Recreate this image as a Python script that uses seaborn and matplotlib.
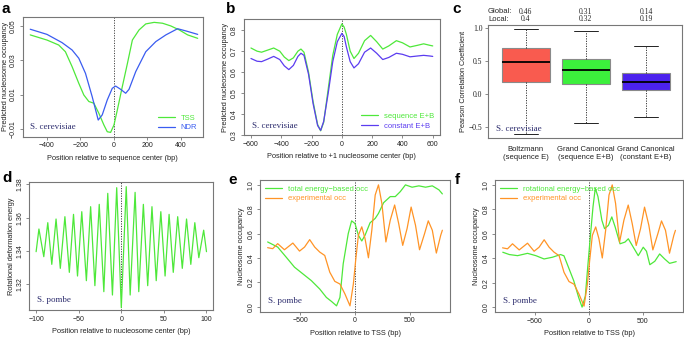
import pandas as pd
import seaborn as sns
import matplotlib.pyplot as plt
import matplotlib.transforms as mtransforms

# ---- panel a: predicted occupancy around TSS / NDR (S. cerevisiae)
a_tss_x = [-500, -400, -330, -290, -250, -210, -180, -150, -120, -90, -60, -40, -20, 0,
           20, 50, 80, 110, 150, 190, 240, 290, 340, 390, 440, 500]
a_tss_y = [0.0448, 0.0418, 0.0389, 0.0350, 0.0263, 0.0166, 0.0098, 0.0060, 0.0050, -0.0009,
           -0.0077, -0.0116, -0.0120, -0.0077, 0.0010, 0.0147, 0.0280, 0.0418, 0.0477, 0.0512,
           0.0521, 0.0516, 0.0500, 0.0477, 0.0448, 0.0428]
a_ndr_x = [-500, -400, -310, -250, -210, -170, -130, -94, -70, -40, -10, 10, 40, 70, 90,
           130, 190, 250, 310, 380, 430, 500]
a_ndr_y = [0.0481, 0.0451, 0.0403, 0.0360, 0.0312, 0.0224, 0.0088, -0.0048, -0.0018, 0.0069,
           0.0137, 0.0150, 0.0131, 0.0108, 0.0131, 0.0234, 0.0350, 0.0409, 0.0448, 0.0484,
           0.0471, 0.0451]

# ---- panel b: around +1 nucleosome
b_x = [-600, -560, -530, -490, -450, -410, -380, -350, -320, -290, -270, -250, -220, -190,
       -160, -140, -120, -90, -60, -30, 0, 15, 30, 55, 80, 110, 150, 190, 230, 270, 310,
       360, 400, 450, 500, 540, 580, 600]
b_seq = [0.715, 0.700, 0.695, 0.705, 0.715, 0.700, 0.672, 0.655, 0.668, 0.700, 0.710, 0.695,
         0.600, 0.460, 0.350, 0.320, 0.360, 0.520, 0.680, 0.780, 0.830, 0.815, 0.780, 0.700,
         0.665, 0.690, 0.750, 0.775, 0.745, 0.710, 0.725, 0.750, 0.740, 0.720, 0.728, 0.735,
         0.728, 0.725]
b_const = [0.665, 0.652, 0.650, 0.662, 0.675, 0.660, 0.630, 0.612, 0.632, 0.675, 0.690, 0.680,
           0.590, 0.450, 0.345, 0.322, 0.365, 0.500, 0.650, 0.745, 0.785, 0.770, 0.720, 0.650,
           0.620, 0.640, 0.695, 0.715, 0.690, 0.660, 0.670, 0.690, 0.685, 0.673, 0.677, 0.680,
           0.677, 0.675]

# ---- panel c: correlation boxes (min, q1, median, q3, max)
c_groups = ["Boltzmann\n(sequence E)", "Grand Canonical\n(sequence E+B)",
            "Grand Canonical\n(constant E+B)"]
c_boltz = [-0.60, 0.182, 0.485, 0.697, 0.985]
c_gc_seq = [-0.44, 0.152, 0.364, 0.535, 0.950]
c_gc_const = [-0.343, 0.066, 0.192, 0.328, 0.732]
c_global = ["0.46", "0.31", "0.14"]
c_local = ["0.4", "0.32", "0.19"]

# ---- panel d: rotational deformation energy (S. pombe), peaks and troughs
d_x = [-100, -96.7, -91, -86.3, -81.6, -76.6, -71.6, -66.2, -61, -56.1, -51.4, -46.4, -41,
       -36, -31, -25.9, -20.5, -15.9, -10.4, -5.4, 0, 5.8, 10.4, 16.2, 20.5, 25.9, 31, 36,
       41, 46.4, 51.4, 56.1, 61, 66.2, 71.6, 76.6, 81.6, 86.3, 91, 96.7, 100]
d_y = [1.3396, 1.3532, 1.3366, 1.3570, 1.3320, 1.3592, 1.3296, 1.3606, 1.3272, 1.3620,
       1.3250, 1.3636, 1.3222, 1.3666, 1.3192, 1.3680, 1.3156, 1.3746, 1.3136, 1.3780,
       1.3060, 1.3786, 1.3136, 1.3752, 1.3156, 1.3680, 1.3192, 1.3666, 1.3222, 1.3636,
       1.3250, 1.3620, 1.3272, 1.3606, 1.3296, 1.3592, 1.3320, 1.3570, 1.3360, 1.3525,
       1.3396]

# ---- panel e/f: occupancy around TSS (S. pombe)
exp_x = [-800, -754, -708, -646, -569, -508, -462, -415, -369, -323, -277, -231, -185, -138,
         -92, -46, -15, 6, 31, 62, 92, 123, 154, 185, 215, 246, 283, 323, 363, 400, 437,
         477, 514, 554, 591, 637, 671, 708, 745, 785, 800]
exp_y = [0.485, 0.477, 0.518, 0.468, 0.523, 0.457, 0.490, 0.551, 0.490, 0.449, 0.421, 0.284,
         0.209, 0.187, 0.105, 0.008, 0.187, 0.380, 0.587, 0.656, 0.559, 0.402, 0.628, 0.917,
         1.000, 0.848, 0.532, 0.711, 0.835, 0.683, 0.504, 0.642, 0.818, 0.669, 0.468, 0.600,
         0.705, 0.628, 0.441, 0.587, 0.628]
e_tot_x = [-800, -708, -631, -554, -477, -400, -323, -262, -215, -169, -138, -108, -62, -31,
           0, 31, 62, 92, 138, 185, 215, 262, 323, 369, 415, 462, 523, 585, 646, 708, 769, 800]
e_tot_y = [0.532, 0.490, 0.408, 0.325, 0.270, 0.215, 0.146, 0.077, 0.044, 0.008, 0.077,
           0.353, 0.600, 0.705, 0.683, 0.587, 0.540, 0.587, 0.689, 0.725, 0.766, 0.854,
           0.904, 0.904, 0.945, 1.000, 0.981, 0.992, 0.981, 0.992, 0.959, 0.926]
f_rot_x = [-798, -737, -661, -569, -492, -416, -339, -263, -232, -202, -141, -95, -64, -34,
           -12, 12, 37, 58, 83, 119, 144, 180, 211, 242, 287, 333, 364, 410, 456, 502, 532,
           563, 609, 654, 700, 746, 807]
f_rot_y = [0.449, 0.430, 0.421, 0.440, 0.421, 0.394, 0.408, 0.430, 0.420, 0.353, 0.215,
           0.077, 0.000, 0.090, 0.325, 0.573, 0.820, 0.972, 0.904, 0.711, 0.642, 0.669,
           0.738, 0.656, 0.518, 0.532, 0.559, 0.490, 0.421, 0.490, 0.457, 0.347, 0.375,
           0.435, 0.394, 0.358, 0.372]

GREEN = "#4ee83a"
BLUE = "#3a5cf0"
PURPLE = "#5b3cf0"
ORANGE = "#ff9426"
NAVY = "#2d2d6e"
FRAME = "#777777"

sns.set_theme(style="white")
plt.rcParams["font.family"] = ["Liberation Sans", "DejaVu Sans"]
plt.rcParams["axes.edgecolor"] = FRAME
plt.rcParams["axes.linewidth"] = 0.8
plt.rcParams["xtick.color"] = FRAME
plt.rcParams["ytick.color"] = FRAME
plt.rcParams["xtick.labelcolor"] = "#222222"
plt.rcParams["ytick.labelcolor"] = "#222222"

W, H = 684, 339
fig = plt.figure(figsize=(6.84, 3.39), dpi=100)


def make_ax(left, top, right, bottom):
    return fig.add_axes([left / W, 1 - bottom / H, (right - left) / W, (bottom - top) / H])


def style(ax, xlabel, ylabel, rot_y=True):
    ax.set_xlabel(xlabel, fontsize=5.3, color="#222222", labelpad=4)
    ax.set_ylabel(ylabel, fontsize=5.3, color="#222222", labelpad=1.5)
    ax.tick_params(axis="both", direction="out", length=2.5, width=0.6, labelsize=5, pad=1.5,
                   bottom=True, left=True)
    if rot_y:
        for lbl in ax.get_yticklabels():
            lbl.set_rotation(90)
            lbl.set_va("center")


def species(ax, name):
    ax.text(0.04, 0.08, name, transform=ax.transAxes, fontsize=6.5, color=NAVY,
            family=["Liberation Serif", "DejaVu Serif"], va="center", ha="left")


def vline(ax):
    ax.axvline(0, color="#444444", ls=(0, (1.2, 1.4)), lw=0.7, zorder=1)


def legend(ax, loc):
    leg = ax.legend(loc=loc, frameon=False, fontsize=5.5, handlelength=2.2,
                    handletextpad=0.8, labelspacing=0.3, borderaxespad=0.3)
    for txt, ln in zip(leg.get_texts(), leg.get_lines()):
        txt.set_color(ln.get_color())


# ---- a
ax = make_ax(22.7, 16.7, 202.7, 136.7)
sns.lineplot(x=a_tss_x, y=a_tss_y, ax=ax, color=GREEN, lw=0.9, label="TSS")
sns.lineplot(x=a_ndr_x, y=a_ndr_y, ax=ax, color=BLUE, lw=0.9, label="NDR")
vline(ax)
ax.set_xlim(-545, 530)
ax.set_ylim(-0.0145, 0.0554)
ax.set_xticks([-400, -200, 0, 200, 400])
ax.set_xticklabels(["\u2212400", "\u2212200", "0", "200", "400"])
ax.set_yticks([-0.01, 0.01, 0.03, 0.05])
ax.set_yticklabels(["\u22120.01", "0.01", "0.03", "0.05"])
style(ax, "Position relative to sequence center (bp)", "Predicted nucleosome occupancy")
ax.yaxis.labelpad = 0.5
legend(ax, "lower right")
species(ax, "S. cerevisiae")

# ---- b
ax = make_ax(243.7, 19.3, 440, 135)
sns.lineplot(x=b_x, y=b_seq, ax=ax, color=GREEN, lw=0.9, label="sequence E+B")
sns.lineplot(x=b_x, y=b_const, ax=ax, color=PURPLE, lw=0.9, label="constant E+B")
vline(ax)
ax.set_xlim(-648, 648)
ax.set_ylim(0.3, 0.852)
ax.set_xticks([-600, -400, -200, 0, 200, 400, 600])
ax.set_xticklabels(["\u2212600", "\u2212400", "\u2212200", "0", "200", "400", "600"])
ax.set_yticks([0.3, 0.4, 0.5, 0.6, 0.7, 0.8])
style(ax, "Position relative to +1 nucleosome center (bp)", "Predicted nucleosome occupancy")
legend(ax, "lower right")
species(ax, "S. cerevisiae")

# ---- c
ax = make_ax(488, 25, 682, 138)
df_c = pd.DataFrame({
    "group": [c_groups[0]] * 5 + [c_groups[1]] * 5 + [c_groups[2]] * 5,
    "r": c_boltz + c_gc_seq + c_gc_const,
})
sns.boxplot(data=df_c, x="group", y="r", hue="group", order=c_groups,
            palette=["#f95b4f", "#3cf03c", "#4b22ee"], saturation=1, whis=(0, 100),
            width=0.8, linewidth=0.8, linecolor="#222222", ax=ax, legend=False)
# R-like box styling: grey box border, black median, dotted whiskers
for patch in ax.patches:
    patch.set_edgecolor("#8a8a8a")
for ln in ax.lines:
    xd = ln.get_xdata()
    yd = ln.get_ydata()
    if len(xd) == 2 and xd[0] == xd[1]:
        ln.set_linestyle((0, (1.5, 1.5)))
        ln.set_linewidth(0.6)
    elif len(yd) == 2 and abs(xd[1] - xd[0]) > 0.5:
        ln.set_color("black")
        ln.set_linewidth(1.3)
    else:
        ln.set_linewidth(0.7)
ax.set_xlim(-0.63, 2.6)
ax.set_ylim(-0.663, 1.048)
ax.set_yticks([-0.5, 0.0, 0.5, 1.0])
ax.set_yticklabels(["\u22120.5", "0.0", "0.5", "1.0"])
style(ax, "", "Pearson Correlation Coefficient", rot_y=False)
ax.tick_params(axis="x", length=0, labelsize=5.5, pad=6)
for lbl in ax.get_yticklabels():
    lbl.set_family(["Liberation Serif", "DejaVu Serif"])
    lbl.set_fontsize(5.5)
tr = mtransforms.blended_transform_factory(ax.transData, ax.transAxes)
ax.text(0.0, 1.118, "Global:", transform=ax.transAxes, fontsize=5.5, va="center", ha="left")
ax.text(0.0, 1.05, "Local:", transform=ax.transAxes, fontsize=5.5, va="center", ha="left")
for i in range(3):
    ax.text(i, 1.118, c_global[i], transform=tr, fontsize=5.5, va="center", ha="center",
            family=["Liberation Serif", "DejaVu Serif"])
    ax.text(i, 1.05, c_local[i], transform=tr, fontsize=5.5, va="center", ha="center",
            family=["Liberation Serif", "DejaVu Serif"])
species(ax, "S. cerevisiae")

# ---- d
ax = make_ax(29.3, 181.7, 213.3, 310)
sns.lineplot(x=d_x, y=d_y, ax=ax, color=GREEN, lw=0.9)
vline(ax)
ax.set_xlim(-108, 108)
ax.set_ylim(1.3046, 1.3816)
ax.set_xticks([-100, -50, 0, 50, 100])
ax.set_xticklabels(["\u2212100", "\u221250", "0", "50", "100"])
ax.set_yticks([1.32, 1.34, 1.36, 1.38])
style(ax, "Position relative to nucleosome center (bp)", "Rotational deformation energy")
species(ax, "S. pombe")

# ---- e
ax = make_ax(260, 180, 450, 311.7)
sns.lineplot(x=e_tot_x, y=e_tot_y, ax=ax, color=GREEN, lw=0.9, label="total energy\u2212based occ")
sns.lineplot(x=exp_x, y=exp_y, ax=ax, color=ORANGE, lw=0.9, label="experimental occ")
vline(ax)
ax.set_xlim(-870, 870)
ax.set_ylim(-0.04, 1.04)
ax.set_xticks([-500, 0, 500])
ax.set_xticklabels(["\u2212500", "0", "500"])
ax.set_yticks([0.0, 0.2, 0.4, 0.6, 0.8, 1.0])
style(ax, "Position relative to TSS (bp)", "Nucleosome occupancy")
legend(ax, "upper left")
species(ax, "S. pombe")

# ---- f
ax = make_ax(495, 180, 683, 312)
sns.lineplot(x=f_rot_x, y=f_rot_y, ax=ax, color=GREEN, lw=0.9,
             label="rotational energy\u2212based occ")
sns.lineplot(x=exp_x, y=exp_y, ax=ax, color=ORANGE, lw=0.9, label="experimental occ")
vline(ax)
ax.set_xlim(-870, 870)
ax.set_ylim(-0.04, 1.04)
ax.set_xticks([-500, 0, 500])
ax.set_xticklabels(["\u2212500", "0", "500"])
ax.set_yticks([0.0, 0.2, 0.4, 0.6, 0.8, 1.0])
style(ax, "Position relative to TSS (bp)", "Nucleosome occupancy")
legend(ax, "upper left")
species(ax, "S. pombe")

# panel letters
for letter, px, py in [("a", 2, 9), ("b", 226, 9), ("c", 452, 9),
                       ("d", 2, 178), ("e", 228, 180), ("f", 455, 180)]:
    fig.text(px / W, 1 - py / H, letter, fontsize=11, fontweight="bold", va="center",
             ha="left", color="black")

fig.savefig("out.png", dpi=100)
